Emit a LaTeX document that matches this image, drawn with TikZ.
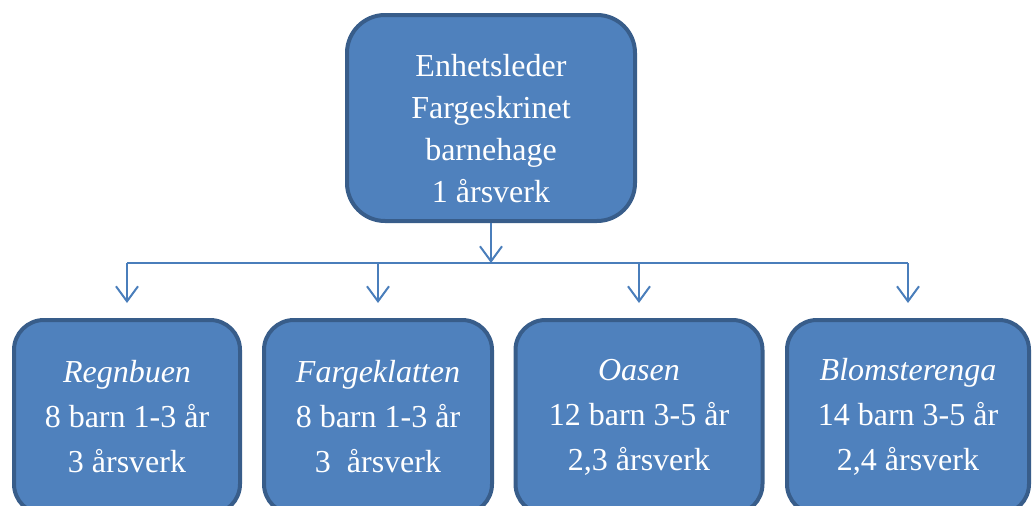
\documentclass[tikz,border=0pt]{standalone}
\usepackage{fontspec}
\setmainfont{Liberation Serif}
\usetikzlibrary{arrows.meta,positioning,calc}
\definecolor{boxfill}{RGB}{79,129,189}
\definecolor{boxline}{RGB}{56,93,138}
\definecolor{linkcol}{RGB}{74,126,187}

\begin{document}
\begin{tikzpicture}[x=1pt,y=-1pt,
  unit/.style={draw=boxline,fill=boxfill,line width=4pt,text=white,align=center,inner sep=0pt},
  link/.style={draw=linkcol,line width=2pt,-{Straight Barb[length=15pt,width=22pt,line width=2pt]}},
  bus/.style={draw=linkcol,line width=2pt}]

\useasboundingbox (0,0) rectangle (1034,506);

\coordinate (busy) at (0,263);

\node[unit,rounded corners=38pt,minimum width=288pt,minimum height=206pt,
  font=\fontsize{32}{42}\selectfont] (leder) at (491,118)
  {\rule{0pt}{43pt}Enhetsleder\\Fargeskrinet\\barnehage\\1 årsverk};

\foreach \name/\x/\w/\title/\kids/\staff in
  {regnbuen/127/226/Regnbuen/8 barn 1-3 år/3 årsverk,
   fargeklatten/378/228/Fargeklatten/8 barn 1-3 år/3~ årsverk,
   oasen/639/247/Oasen/12 barn 3-5 år/{2,3 årsverk},
   blomsterenga/908/242/Blomsterenga/14 barn 3-5 år/{2,4 årsverk}}
  {\node[unit,rounded corners=30pt,minimum width=\w pt,minimum height=194pt,
     font=\fontsize{32}{45}\selectfont] (\name) at (\x,417)
     {\textit{\title}\\\kids\\\staff};}

\draw[link] (leder.south) -- (leder.south |- busy);
\draw[bus] (regnbuen.north |- busy) -- (blomsterenga.north |- busy);
\foreach \name in {regnbuen,fargeklatten,oasen,blomsterenga}
  {\draw[link,shorten >=15pt] (\name.north |- busy) -- (\name.north);}

\end{tikzpicture}
\end{document}
